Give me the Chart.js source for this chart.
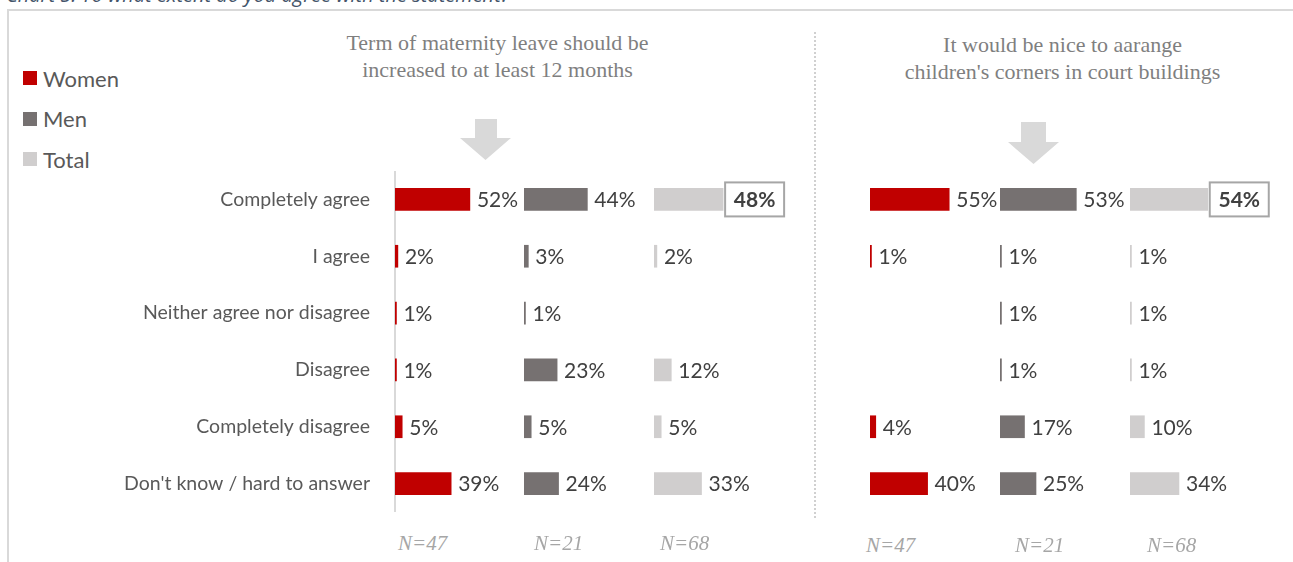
<!DOCTYPE html>
<html>
<head>
<meta charset="utf-8">
<script src="https://cdn.jsdelivr.net/npm/chart.js@4.4.1/dist/chart.umd.min.js"></script>
<style>
  body { margin: 0; background: #fff; }
  #page { position: relative; width: 1293px; height: 562px; overflow: hidden; font-family: Lato, 'Open Sans', sans-serif; }
  .frame { position: absolute; left: 7px; top: 9px; width: 1400px; height: 700px; border: 2px solid #d9d9d9; box-sizing: border-box; }
  .caption { position: absolute; left: 6px; top: -15px; font: italic 20px/20px 'Open Sans', sans-serif; color: #44546a; white-space: nowrap; }
  .legend { position: absolute; left: 23px; top: 58px; }
  .legend div { height: 40.5px; display: flex; align-items: center; font-size: 22px; color: #595959; }
  .legend span { display: inline-block; width: 14px; height: 14px; margin-right: 6px; }
  .title { position: absolute; width: 500px; text-align: center; font: 22px/27.5px 'Liberation Serif', serif; color: #7f7f7f; }
  .n { position: absolute; font: italic 21px 'Liberation Serif', serif; color: #a6a6a6; }
  .sep { position: absolute; left: 814px; top: 32px; height: 486px; border-left: 2px dotted #d0d0d0; }
  canvas { position: absolute; }
  svg { position: absolute; left: 0; top: 0; }
</style>
</head>
<body>
<div id="page">
  <div class="frame"></div>
  <div class="caption">Chart 5. To what extent do you agree with the statement?</div>
  <div class="legend" id="legend"></div>
  <div class="sep"></div>
  <svg width="1293" height="562">
    <polygon fill="#d9d9d9" points="475,119 497,119 497,138 511,138 485.5,160 460,138 475,138"/>
    <polygon fill="#d9d9d9" points="1021,122 1046,122 1046,142 1059,142 1033.5,164 1008,142 1021,142"/>
  </svg>
</div>
<script>
// answer options, top to bottom
const categories = [
  'Completely agree',
  'I agree',
  'Neither agree nor disagree',
  'Disagree',
  'Completely disagree',
  "Don't know / hard to answer"
];
const seriesNames = ['Women', 'Men', 'Total'];
const seriesColors = ['#c00000', '#767171', '#d0cece'];
const sampleSizes = [47, 21, 68];

const statements = [
  ['Term of maternity leave should be', 'increased to at least 12 months'],
  ['It would be nice to aarange', "children's corners in court buildings"]
];

// % of respondents, null = no answers
const leaveWomen = [52, 2, 1, 1, 5, 39];
const leaveMen = [44, 3, 1, 23, 5, 24];
const leaveTotal = [48, 2, null, 12, 5, 33];

const cornersWomen = [55, 1, null, null, 4, 40];
const cornersMen = [53, 1, 1, 1, 17, 25];
const cornersTotal = [54, 1, 1, 1, 10, 34];

const page = document.getElementById('page');

// legend
const legend = document.getElementById('legend');
seriesNames.forEach((name, i) => {
  const row = document.createElement('div');
  row.innerHTML = '<span style="background:' + seriesColors[i] + '"></span>' + name;
  legend.appendChild(row);
});

// panel headings
[[247.5, 28.5], [812.5, 30.5]].forEach((pos, i) => {
  const t = document.createElement('div');
  t.className = 'title';
  t.style.left = pos[0] + 'px';
  t.style.top = pos[1] + 'px';
  t.innerHTML = statements[i].join('<br>');
  page.appendChild(t);
});

// percent labels next to the bars; one row of the Total column gets a box
const valueLabels = {
  id: 'valueLabels',
  afterDatasetsDraw(chart, args, opts) {
    const ctx = chart.ctx;
    const meta = chart.getDatasetMeta(0);
    const data = chart.data.datasets[0].data;
    ctx.save();
    ctx.textBaseline = 'middle';
    meta.data.forEach((bar, i) => {
      const v = data[i];
      if (v == null) return;
      const text = v + '%';
      if (i === opts.boxRow) {
        const bx = bar.x + 2, bw = 59, bh = 34;
        ctx.fillStyle = '#fff';
        ctx.fillRect(bx, bar.y - bh / 2, bw, bh);
        ctx.strokeStyle = '#a6a6a6';
        ctx.lineWidth = 2;
        ctx.strokeRect(bx, bar.y - bh / 2, bw, bh);
        ctx.font = 'bold 21px Lato, sans-serif';
        ctx.fillStyle = '#404040';
        ctx.textAlign = 'center';
        ctx.fillText(text, bx + bw / 2, bar.y + 1);
      } else {
        ctx.font = '21px Lato, sans-serif';
        ctx.fillStyle = '#404040';
        ctx.textAlign = 'left';
        ctx.fillText(text, bar.x + 7, bar.y + 1);
      }
    });
    ctx.restore();
  }
};

const COL_W = 160;
const LABEL_W = 395;
const TOP = 171, HEIGHT = 341;

function addColumn(left, values, color, withLabels, boxRow) {
  const canvas = document.createElement('canvas');
  const width = COL_W + (withLabels ? LABEL_W : 0);
  canvas.width = width;
  canvas.height = HEIGHT;
  canvas.style.left = (withLabels ? 0 : left) + 'px';
  canvas.style.top = TOP + 'px';
  page.appendChild(canvas);

  const yAxis = { display: false };
  if (withLabels) {
    Object.assign(yAxis, {
      display: true,
      afterFit: s => {
        // fixed label column, no extra room above/below the bars
        s.width = LABEL_W;
        s.paddingTop = 0;
        s.paddingBottom = 0;
      },
      grid: { display: false, drawTicks: false },
      border: { display: true, color: '#d9d9d9', width: 2 },
      ticks: { padding: 25, color: '#595959', font: { family: 'Lato', size: 19.5 } }
    });
  }

  new Chart(canvas, {
    type: 'bar',
    data: {
      labels: categories,
      datasets: [{ data: values, backgroundColor: color, borderWidth: 0, barThickness: 22 }]
    },
    options: {
      indexAxis: 'y',
      responsive: false,
      animation: false,
      layout: { padding: { right: COL_W - 144 } },
      plugins: {
        legend: { display: false },
        tooltip: { enabled: false },
        valueLabels: { boxRow: boxRow }
      },
      scales: {
        x: { display: false, min: 0, max: 100 },
        y: yAxis
      }
    },
    plugins: [valueLabels]
  });
}

const panels = [
  { lefts: [395, 524, 654], values: [leaveWomen, leaveMen, leaveTotal], nLefts: [398, 534, 660] },
  { lefts: [870, 1000, 1130], values: [cornersWomen, cornersMen, cornersTotal], nLefts: [866, 1015, 1147] }
];

panels.forEach((p, pi) => {
  p.values.forEach((vals, si) => {
    addColumn(p.lefts[si], vals, seriesColors[si], pi === 0 && si === 0, si === 2 ? 0 : -1);
    const n = document.createElement('div');
    n.className = 'n';
    n.textContent = 'N=' + sampleSizes[si];
    n.style.left = p.nLefts[si] + 'px';
    n.style.top = (pi === 0 ? 531 : 533) + 'px';
    page.appendChild(n);
  });
});
</script>
</body>
</html>
